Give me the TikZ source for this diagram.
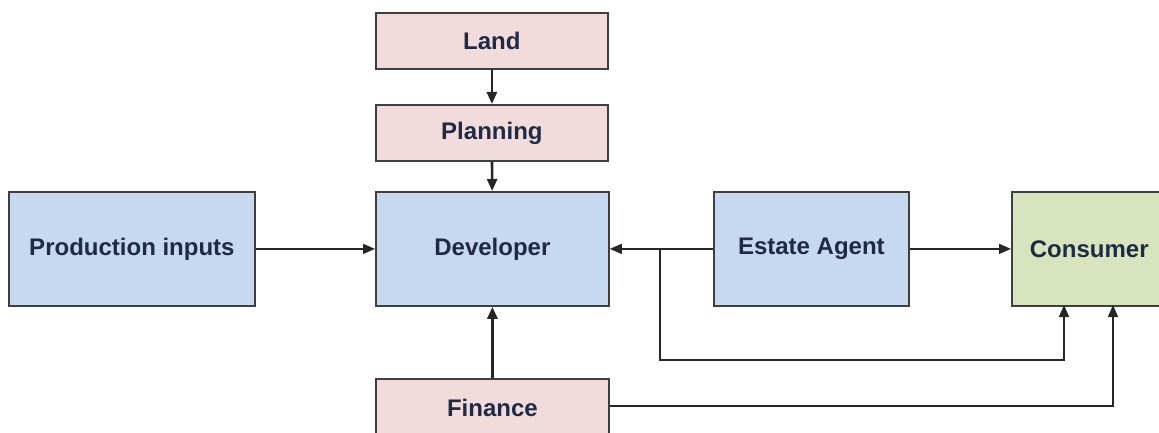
\documentclass[tikz,border=0pt]{standalone}
\usepackage{fontspec}
\setmainfont{Liberation Sans}
\usetikzlibrary{arrows.meta}
\definecolor{pinkf}{HTML}{F2DCDB}
\definecolor{bluef}{HTML}{C6D9F1}
\definecolor{greenf}{HTML}{D7E4BD}
\definecolor{edgec}{HTML}{3F3F3F}
\definecolor{txtc}{HTML}{1F2A44}
\tikzset{
  box/.style={draw=edgec, line width=1.8pt, inner sep=0pt, anchor=north west,
    font=\fontsize{24}{28}\selectfont\bfseries, text=txtc},
  conn/.style={draw=black!85, line width=1.5pt, -{Triangle[length=12pt,width=10pt]}},
  thick conn/.style={conn, line width=2.6pt},
}
\begin{document}
\begin{tikzpicture}[x=1pt,y=-1pt]
\useasboundingbox (0,0) rectangle (1159,433);
\begin{scope}
\clip (0,0) rectangle (1159,433);
\node[box, fill=pinkf, minimum width=232pt, minimum height=56pt] (land) at (375,12) {Land};
\node[box, fill=pinkf, minimum width=232pt, minimum height=56pt] (plan) at (375,104) {Planning};
\node[box, fill=bluef, minimum width=233pt, minimum height=114pt] (dev) at (375,191) {Developer};
\node[box, fill=bluef, minimum width=246pt, minimum height=114pt] (prod) at (8,191) {Production inputs};
\node[box, fill=bluef, minimum width=195pt, minimum height=114pt] (agent) at (713,191) {Estate Agent};
\node[box, fill=greenf, minimum width=160pt, minimum height=114pt, text width=160pt, align=left] (cons) at (1011,191) {\hspace*{18pt}Consumer};
\node[box, fill=pinkf, minimum width=233pt, minimum height=58pt] (fin) at (375,378) {Finance};
\end{scope}
\coordinate (branch) at (660,248);
\coordinate (c1) at (1064,305);
\coordinate (c2) at (1113,305);
\draw[thick conn] (land) -- (plan);
\draw[thick conn] (plan) -- (dev);
\draw[conn] (prod) -- (dev);
\draw[conn] (agent) -- (dev);
\draw[conn] (agent) -- (cons.west |- agent.east);
\draw[conn] (branch) |- (1064,360) -- (c1);
\draw[thick conn] (fin.north) -- (dev.south);
\draw[conn] (fin.east |- 0,406) -| (c2);
\end{tikzpicture}
\end{document}
